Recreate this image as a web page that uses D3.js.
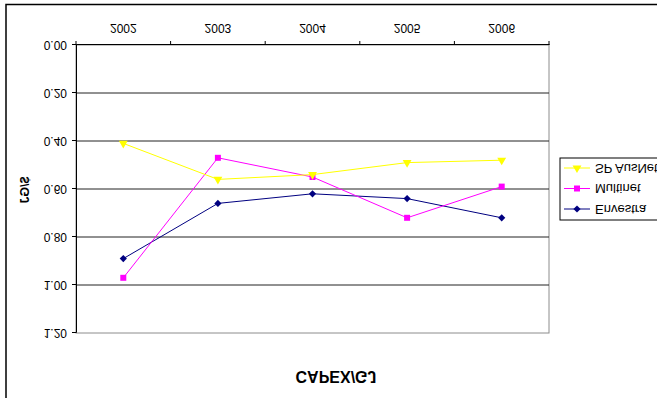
<!DOCTYPE html>
<html>
<head>
<meta charset="utf-8">
<script src="https://cdn.jsdelivr.net/npm/d3@7"></script>
<style>
  html, body { margin: 0; padding: 0; background: #fff; }
  svg { display: block; font-family: "Liberation Sans", Arial, sans-serif; }
</style>
</head>
<body>
<svg id="chart" width="657" height="398"></svg>
<script>
// CAPEX per GJ by distributor, 2002-2006 (picture is mirrored top-to-bottom)
const years = ['2002', '2003', '2004', '2005', '2006'];
const yTicks = [0, 0.2, 0.4, 0.6, 0.8, 1.0, 1.2];
const envestra = [0.89, 0.66, 0.62, 0.64, 0.72];
const multinet = [0.97, 0.47, 0.55, 0.72, 0.59];
const spAusnet = [0.41, 0.56, 0.54, 0.49, 0.48];
const seriesNames = ['Envestra', 'Multinet', 'SP AusNet'];

const W = 657, H = 398;
const svg = d3.select('#chart');
// draw the chart the normal way, then flip it vertically like the reference
const g = svg.append('g').attr('transform', `translate(0,${H}) scale(1,-1)`);

const L = 76, R = 549, T = 65, B = 353;
const x = d3.scaleBand().domain(years).range([L, R]).padding(0);
const xEdge = d3.scaleLinear().domain([0, years.length]).range([L, R]);
const y = d3.scaleLinear().domain([0, 1.2]).range([B, T]);

// outer chart border
g.append('rect').attr('x', 6).attr('y', -10).attr('width', 720).attr('height', 403.5)
  .attr('fill', '#fff').attr('stroke', '#000').attr('stroke-width', 1.5);

// plot area
g.append('rect').attr('x', L).attr('y', T).attr('width', R - L).attr('height', B - T)
  .attr('fill', '#fff').attr('stroke', '#8c8c8c').attr('stroke-width', 1);

// gridlines
g.append('g').selectAll('line').data(yTicks.filter(d => d > 0 && d < 1.2)).join('line')
  .attr('x1', L).attr('x2', R).attr('y1', d => y(d)).attr('y2', d => y(d))
  .attr('stroke', '#222').attr('stroke-width', 1);

// y axis
const yAxis = g.append('g').attr('transform', `translate(${L},0)`)
  .call(d3.axisLeft(y).tickValues(yTicks).tickFormat(d3.format('.2f')).tickSize(4).tickPadding(5));
yAxis.select('.domain').attr('stroke', '#000');
yAxis.selectAll('.tick line').attr('stroke', '#000');
yAxis.selectAll('text').attr('font-size', 12).attr('fill', '#000')
  .attr('font-family', '"Liberation Sans", Arial, sans-serif');

// x axis: ticks between categories, labels centred
const xAxis = g.append('g').attr('transform', `translate(0,${B})`)
  .call(d3.axisBottom(x).tickSize(0).tickPadding(12));
xAxis.select('.domain').attr('stroke', '#000');
xAxis.selectAll('text').attr('font-size', 12).attr('fill', '#000')
  .attr('font-family', '"Liberation Sans", Arial, sans-serif');
g.append('g').selectAll('line').data(d3.range(years.length + 1)).join('line')
  .attr('x1', d => xEdge(d)).attr('x2', d => xEdge(d))
  .attr('y1', B).attr('y2', B + 4).attr('stroke', '#000');

// series (Excel-style diamond = square turned 45 degrees)
const series = [
  { name: seriesNames[0], values: envestra, color: '#000080', symbol: d3.symbolSquare, size: 26, rot: 45 },
  { name: seriesNames[1], values: multinet, color: '#ff00ff', symbol: d3.symbolSquare, size: 36, rot: 0 },
  { name: seriesNames[2], values: spAusnet, color: '#ffff00', symbol: d3.symbolTriangle, size: 34, rot: 0 }
];
const line = d3.line().x((d, i) => x(years[i]) + x.bandwidth() / 2).y(d => y(d));
series.forEach(s => {
  g.append('path').datum(s.values).attr('d', line)
    .attr('fill', 'none').attr('stroke', s.color).attr('stroke-width', 1);
  g.append('g').selectAll('path').data(s.values).join('path')
    .attr('d', d3.symbol().type(s.symbol).size(s.size))
    .attr('transform', (d, i) => `translate(${x(years[i]) + x.bandwidth() / 2},${y(d)}) rotate(${s.rot})`)
    .attr('fill', s.color);
});

// axis titles
g.append('text').attr('x', 336).attr('y', 22).attr('text-anchor', 'middle')
  .attr('dominant-baseline', 'central').attr('font-size', 16).attr('font-weight', 'bold')
  .text('CAPEX/GJ');
g.append('text').attr('transform', `translate(25,${H - 190}) rotate(-90)`)
  .attr('text-anchor', 'middle').attr('dominant-baseline', 'central')
  .attr('font-size', 12.5).attr('font-weight', 'bold').text('$/GJ');

// legend
const lg = g.append('g');
lg.append('rect').attr('x', 560).attr('y', 178).attr('width', 140).attr('height', 62)
  .attr('fill', '#fff').attr('stroke', '#000').attr('stroke-width', 1);
const legendY = d3.scalePoint().domain(seriesNames).range([189, 230]);
series.forEach(s => {
  const ly = legendY(s.name);
  lg.append('line').attr('x1', 564).attr('x2', 590).attr('y1', ly).attr('y2', ly)
    .attr('stroke', s.color).attr('stroke-width', 1);
  lg.append('path').attr('d', d3.symbol().type(s.symbol).size(s.size))
    .attr('transform', `translate(577,${ly}) rotate(${s.rot})`).attr('fill', s.color);
  lg.append('text').attr('x', 595).attr('y', ly).attr('dominant-baseline', 'central')
    .attr('font-size', 13).text(s.name);
});
</script>
</body>
</html>
